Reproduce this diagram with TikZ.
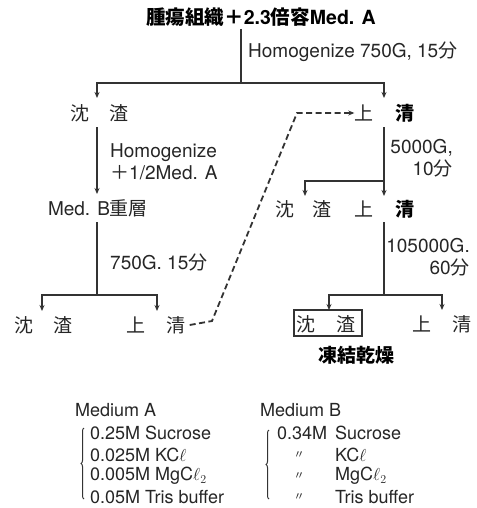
\documentclass[tikz,border=0pt]{standalone}
\usepackage{fontspec}
\setmainfont{TeX Gyre Heros}
\newfontfamily\cjk{Noto Sans CJK JP}
\usetikzlibrary{arrows.meta,decorations.pathreplacing}
\newcommand{\J}[1]{{\cjk #1}}
\tikzset{
  txt/.style={inner sep=0pt, text=black!85, font=\fontsize{19}{22}\selectfont},
  btxt/.style={txt, text=black, font=\fontsize{19}{22}\selectfont\bfseries},
  flow/.style={line width=1.8pt, draw=black!80},
  arr/.style={flow, -{Stealth[length=6pt,width=5pt]}},
  darr/.style={flow, dashed, dash pattern=on 6pt off 3.5pt, -{Stealth[length=6pt,width=5pt]}},
  brace/.style={line width=1pt, draw=black!80, decorate, decoration={brace, amplitude=3pt}},
  lst/.style={txt, anchor=west, font=\fontsize{18}{20}\selectfont},
  ditto/.style={txt, font=\fontsize{11}{12}\selectfont}
}
\begin{document}
\begin{tikzpicture}[x=1pt,y=-1pt]
\useasboundingbox[fill=white] (0,0) rectangle (476,508);
% title
\node[btxt, font=\fontsize{19.5}{22}\selectfont\bfseries] (title) at (261,17) {\J{腫瘍組織＋}2.3\J{倍容}Med. A};
\node[txt, anchor=west] (l1) at (248,52) {Homogenize 750G, 15\J{分}};
% top row
\node[txt] (s1a) at (80,113) {\J{沈}};
\node[txt] (s1b) at (119,113) {\J{渣}};
\node[txt] (u1a) at (364,113) {\J{上}};
\node[btxt] (u1b) at (405,113) {\J{清}};
% left column
\node[txt, anchor=west, align=left] (l2) at (110,162) {Homogenize\\\J{＋}1/2Med. A};
\node[txt] (medb) at (98,208) {Med. B\J{重層}};
\node[txt, anchor=west] (l3) at (110,262) {750G. 15\J{分}};
\node[txt] (s3a) at (24,325) {\J{沈}};
\node[txt] (s3b) at (63,325) {\J{渣}};
\node[txt] (u3a) at (136,325) {\J{上}};
\node[txt] (u3b) at (176,325) {\J{清}};
% right column
\node[txt, anchor=east, align=right] (l4) at (453,158) {5000G,\\10\J{分}};
\node[txt] (s2a) at (285,209) {\J{沈}};
\node[txt] (s2b) at (322,209) {\J{渣}};
\node[txt] (u2a) at (364,209) {\J{上}};
\node[btxt] (u2b) at (405,209) {\J{清}};
\node[txt, anchor=east, align=right] (l5) at (470,257) {105000G.\\60\J{分}};
\node[txt] (s4a) at (306,324) {\J{沈}};
\node[txt] (s4b) at (346,324) {\J{渣}};
\node[draw=black!80, line width=1.4pt, minimum width=68pt, minimum height=26pt, inner sep=0pt] (box) at (328,323) {};
\node[txt] (u4a) at (422,324) {\J{上}};
\node[txt] (u4b) at (462,324) {\J{清}};
\node[btxt] (fd) at (356,355) {\J{凍結乾燥}};
% junction coordinates
\coordinate (a0) at (241,29);
\coordinate (a1) at (241,83);
\coordinate (aL) at (97,83);
\coordinate (aR) at (384,83);
\coordinate (aLe) at (97,98);
\coordinate (aRe) at (384,98);
\draw[flow] (a0) -- (a1);
\draw[arr, {Stealth[length=6pt,width=5pt]}-{Stealth[length=6pt,width=5pt]}] (aLe) -- (aL) -- (aR) -- (aRe);
% left column lines
\coordinate (b0) at (97,127);
\coordinate (b1) at (97,194);
\draw[arr] (b0) -- (b1);
\coordinate (c0) at (97,222);
\coordinate (c1) at (97,295);
\coordinate (cL) at (42,295);
\coordinate (cR) at (157,295);
\coordinate (cLe) at (42,311);
\coordinate (cRe) at (157,311);
\draw[flow] (c0) -- (c1);
\draw[arr, {Stealth[length=6pt,width=5pt]}-{Stealth[length=6pt,width=5pt]}] (cLe) -- (cL) -- (cR) -- (cRe);
% right column lines
\coordinate (d0) at (384,127);
\coordinate (d1) at (384,196);
\coordinate (dj) at (384,181);
\coordinate (dL) at (305,181);
\coordinate (dLe) at (305,196);
\draw[arr] (d0) -- (d1);
\draw[arr] (dj) -- (dL) -- (dLe);
\coordinate (e0) at (384,222);
\coordinate (e1) at (384,295);
\coordinate (eL) at (329,295);
\coordinate (eR) at (442,295);
\coordinate (eLe) at (329,310);
\coordinate (eRe) at (442,310);
\draw[flow] (e0) -- (e1);
\draw[arr, {Stealth[length=6pt,width=5pt]}-{Stealth[length=6pt,width=5pt]}] (eLe) -- (eL) -- (eR) -- (eRe);
% dashed return
\coordinate (f1) at (212,321);
\coordinate (f2) at (297,113);
\draw[darr] (u3b.east) ++(4,0) -- (f1) -- (f2) -- (u1a.west);
% media lists
\node[lst] (ma) at (75,410) {Medium A};
\node[lst] (ma1) at (90,433) {0.25M Sucrose};
\node[lst] (ma2) at (90,455) {0.025M KC$\ell$};
\node[lst] (ma3) at (90,476) {0.005M MgC$\ell_2$};
\node[lst] (ma4) at (90,497) {0.05M Tris buffer};
\coordinate (ba0) at (84,499);
\coordinate (ba1) at (84,428);
\draw[brace] (ba0) -- (ba1);
\node[lst] (mb) at (260,410) {Medium B};
\node[lst] (mb1) at (277,433) {0.34M};
\node[lst] (mb1b) at (335,433) {Sucrose};
\node[ditto] (dt2) at (299,455) {\J{〃}};
\node[lst] (mb2) at (335,455) {KC$\ell$};
\node[ditto] (dt3) at (299,476) {\J{〃}};
\node[lst] (mb3) at (335,476) {MgC$\ell_2$};
\node[ditto] (dt4) at (299,497) {\J{〃}};
\node[lst] (mb4) at (335,497) {Tris buffer};
\coordinate (bb0) at (269,499);
\coordinate (bb1) at (269,430);
\draw[brace] (bb0) -- (bb1);
\end{tikzpicture}
\end{document}
